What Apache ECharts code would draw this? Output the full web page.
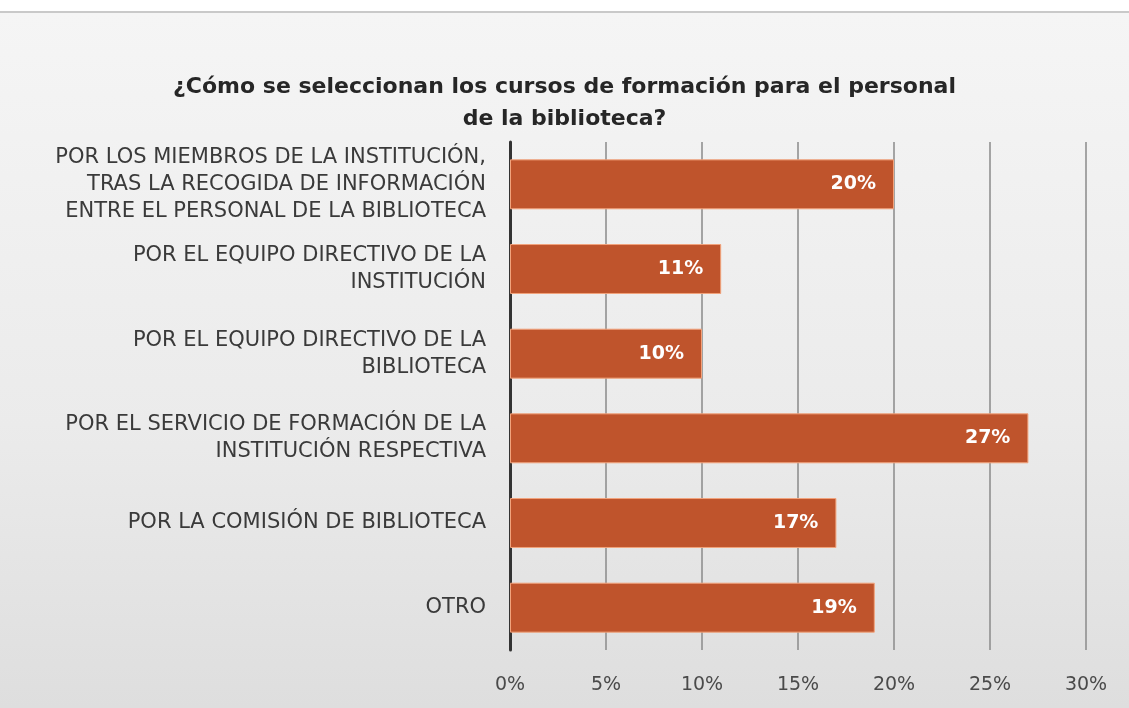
<!DOCTYPE html>
<html>
<head>
<meta charset="utf-8">
<script src="https://cdn.jsdelivr.net/npm/echarts@6/dist/echarts.min.js"></script>
<style>
  html, body { margin: 0; padding: 0; background: #fff; }
  #chart {
    width: 1129px;
    height: 708px;
    background: linear-gradient(to bottom, #ffffff 0px, #ffffff 11px, #c9c9c9 11px, #c9c9c9 13px, #f5f5f5 13px, #ebebeb 60%, #dedede 100%);
  }
</style>
</head>
<body>
<div id="chart"></div>
<script>
// data
var categories = [
    'POR LOS MIEMBROS DE LA INSTITUCIÓN,\nTRAS LA RECOGIDA DE INFORMACIÓN\nENTRE EL PERSONAL DE LA BIBLIOTECA',
    'POR EL EQUIPO DIRECTIVO DE LA\nINSTITUCIÓN',
    'POR EL EQUIPO DIRECTIVO DE LA\nBIBLIOTECA',
    'POR EL SERVICIO DE FORMACIÓN DE LA\nINSTITUCIÓN RESPECTIVA',
    'POR LA COMISIÓN DE BIBLIOTECA',
    'OTRO'
];
var percents = [20, 11, 10, 27, 17, 19];
var axisTicks = [0, 5, 10, 15, 20, 25, 30];

var chartDom = document.getElementById('chart');
var myChart = echarts.init(chartDom);

var option = {
    backgroundColor: 'transparent',
    animation: false,
    title: {
        text: '¿Cómo se seleccionan los cursos de formación para el personal\nde la biblioteca?',
        left: 'center',
        top: 66,
        textStyle: {
            fontFamily: 'DejaVu Sans',
            fontSize: 22,
            fontWeight: 'bold',
            color: '#262626',
            lineHeight: 32
        }
    },
    grid: {
        left: 510,
        right: 43,
        top: 142,
        bottom: 58
    },
    xAxis: {
        type: 'value',
        min: axisTicks[0],
        max: axisTicks[axisTicks.length - 1],
        interval: 5,
        axisLine: { show: false },
        axisTick: { show: false },
        axisLabel: {
            formatter: '{value}%',
            margin: 26,
            fontFamily: 'DejaVu Sans',
            fontSize: 19,
            color: '#4a4a4a'
        },
        splitLine: {
            show: true,
            lineStyle: { color: '#8a8a8a', width: 1.5 }
        }
    },
    yAxis: {
        type: 'category',
        inverse: true,
        data: categories,
        axisLine: {
            show: true,
            lineStyle: { color: '#333', width: 3 }
        },
        axisTick: { show: false },
        axisLabel: {
            margin: 24,
            fontFamily: 'DejaVu Sans',
            fontSize: 21,
            color: '#3a3a3a',
            lineHeight: 27,
            align: 'right'
        }
    },
    series: [{
        type: 'bar',
        data: percents,
        barWidth: '59%',
        itemStyle: {
            color: '#bf542c',
            borderColor: '#f2a37c',
            borderWidth: 1
        },
        label: {
            show: true,
            position: 'insideRight',
            distance: 18,
            formatter: '{c}%',
            fontFamily: 'DejaVu Sans',
            fontSize: 19,
            fontWeight: 'bold',
            color: '#fff'
        }
    }]
};
myChart.setOption(option);
</script>
</body>
</html>
